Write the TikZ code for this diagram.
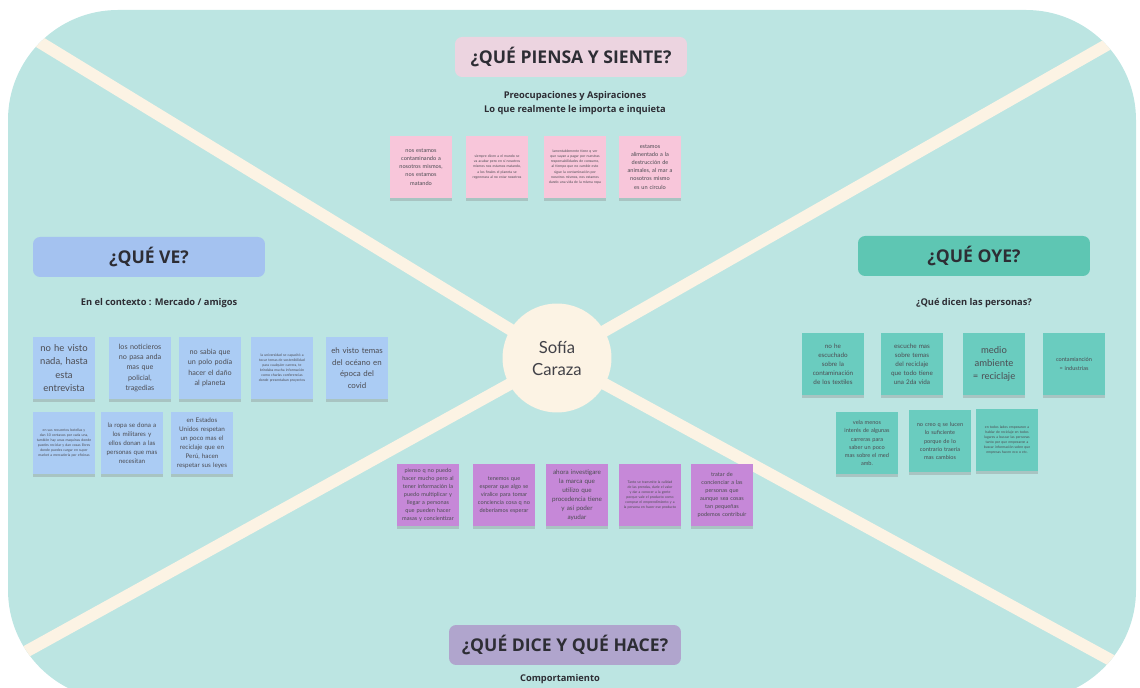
\documentclass[tikz,border=0pt]{standalone}
\usepackage{fontspec}
\setmainfont{Open Sans}
\newfontfamily\notefont{Lato}
\usetikzlibrary{shadows}
\definecolor{mapteal}{RGB}{188,229,226}
\definecolor{mapcream}{RGB}{252,243,228}
\definecolor{pinkhead}{RGB}{236,212,224}
\definecolor{pinknote}{RGB}{248,198,218}
\definecolor{bluehead}{RGB}{164,194,240}
\definecolor{bluenote}{RGB}{171,204,244}
\definecolor{tealhead}{RGB}{94,198,179}
\definecolor{tealnote}{RGB}{106,204,191}
\definecolor{lilahead}{RGB}{176,165,205}
\definecolor{lilanote}{RGB}{198,136,216}
\definecolor{inkgray}{RGB}{45,45,52}
% note text sizes
\newcommand\nbig{\notefont\fontsize{5.4}{7.6}\selectfont}
\newcommand\nlarge{\notefont\fontsize{4.5}{6.6}\selectfont}
\newcommand\nmid{\notefont\fontsize{4.1}{5.9}\selectfont}
\newcommand\nsmall{\notefont\fontsize{3.6}{5.1}\selectfont}
\newcommand\nsmaller{\notefont\fontsize{3.2}{4.6}\selectfont}
\newcommand\ntiny{\notefont\fontsize{2}{2.9}\selectfont\hyphenpenalty=10000}
\tikzset{
  head/.style  = {rounded corners=4pt, minimum width=4.64cm, minimum height=0.8cm,
                  font=\fontsize{10}{12}\selectfont\bfseries, text=inkgray},
  sub/.style   = {font=\fontsize{5.3}{8}\selectfont\bfseries, text=inkgray, align=center},
  note/.style  = {minimum width=1.24cm, minimum height=1.24cm, inner sep=0pt,
                  text width=1.16cm, align=center, text=inkgray!85,
                  drop shadow={shadow xshift=0pt, shadow yshift=-1.5pt, opacity=.32}},
  xline/.style = {draw=mapcream, line width=0.24cm},
}

\begin{document}
\begin{tikzpicture}[x=0.02cm, y=-0.02cm]
  \useasboundingbox (0,0) rectangle (1140,688);

  % board and the cross
  \coordinate (c) at (557,358);
  \coordinate (ul) at (0,18);
  \coordinate (ur) at (1140,26);
  \coordinate (lr) at (1140,676);
  \coordinate (ll) at (0,666);
  \begin{scope}
    \clip[rounded corners=2.2cm] (8,10) rectangle (1136,700);
    \fill[mapteal] (0,0) rectangle (1140,700);
    \foreach \e in {ul, ur, lr, ll} {
      \draw[xline] (c) -- (\e);
    }
  \end{scope}

  \node[circle, fill=mapcream, minimum size=2.18cm, align=center, text=inkgray!90,
        font=\notefont\fontsize{9.5}{12.5}\selectfont] (persona) at (c) {Sofía\\Caraza};

  % headings
  \node[head, fill=pinkhead] (hpiensa) at (571,57) {¿QUÉ PIENSA Y SIENTE?};
  \node[head, fill=bluehead] (hve) at (149,257) {¿QUÉ VE?};
  \node[head, fill=tealhead] (hoye) at (974,256) {¿QUÉ OYE?};
  \node[head, fill=lilahead] (hdice) at (565,645) {¿QUÉ DICE Y QUÉ HACE?};

  \node[sub] (spiensa) at (575,103) {Preocupaciones y Aspiraciones\\Lo que realmente le importa e inquieta};
  \node[sub] (sve) at (159,303) {En el contexto : Mercado / amigos};
  \node[sub] (soye) at (974,303) {¿Qué dicen las personas?};
  \node[sub] (sdice) at (560,679) {Comportamiento};

  % piensa y siente
  \foreach \i/\x/\f/\txt in {
    1/421/\nsmaller/{nos estamos\\contaminando a\\nosotros mismos,\\nos estamos\\matando},
    2/497/\ntiny/{siempre dicen a el mundo se va acabar pero en sí nosotros mismos nos estamos matando, a los finales el planeta se regenerara al no estar nosotros},
    3/575/\ntiny/{lamentablemente tiene q ver que vayan a pagar por nuestras responsabilidades de consumo, al tiempo que no cambie esto sigue la contaminación por nosotros mismos, nos estamos dando una vida de la misma ropa},
    4/650/\nsmaller/{estamos\\alimentado a la\\destrucción de\\animales, al mar a\\nosotros mismo\\es un circulo}} {
    \node[note, fill=pinknote, font=\f] (t\i) at (\x,167) {\txt};
  }

  % que ve
  \foreach \i/\x/\y/\f/\txt in {
    1/64/368/\nbig/{no he visto\\nada, hasta\\esta\\entrevista},
    2/140/368/\nmid/{los noticieros\\no pasa anda\\mas que\\policial,\\tragedias},
    3/210/368/\nmid/{no sabia que\\un polo podía\\hacer el daño\\al planeta},
    4/282/368/\ntiny/{la universidad se capacitó a tocar temas de sostenibilidad para cualquier carrera, te brindaba mucha información como charlas conferencias donde presentaban proyectos},
    5/357/368/\nlarge/{eh visto temas\\del océano en\\época del\\covid},
    6/64/443/\ntiny/{en sus recuentos botellas y dan 10 centavos por cada una, también hay unas maquinas donde puedes reciclar y dan cosas libres donde puedes cargar en super market a mercadería por eficinas},
    7/132/443/\nsmall/{la ropa se dona a\\los militares y\\ellos donan a las\\personas que mas\\necesitan},
    8/202/443/\nsmall/{en Estados\\Unidos respetan\\un poco mas el\\reciclaje que en\\Perú, hacen\\respetar sus leyes}} {
    \node[note, fill=bluenote, font=\f] (v\i) at (\x,\y) {\txt};
  }

  % que oye
  \foreach \i/\x/\y/\f/\txt in {
    1/833/364/\nsmall/{no he\\escuchado\\sobre la\\contaminación\\de los textiles},
    2/912/364/\nsmall/{escuche mas\\sobre temas\\del reciclaje\\que todo tiene\\una 2da vida},
    3/994/364/\nbig/{medio\\ambiente\\= reciclaje},
    4/1074/364/\nsmaller/{contamianción\\= industrias},
    5/867/443/\nsmaller/{vela menos\\interés de algunas\\carreras para\\saber un poco\\mas sobre el med\\amb.},
    6/940/441/\nsmaller/{no creo q se lucen\\lo suficiente\\porque de lo\\contrario traería\\mas cambios},
    7/1007/440/\ntiny/{en todos lados empezaron a hablar de reciclaje en todos lugares a buscar las personas tanto por que empezaron a buscar información sobre que empresas hacen eco o etc.}} {
    \node[note, fill=tealnote, font=\f] (o\i) at (\x,\y) {\txt};
  }

  % dice y hace
  \foreach \i/\x/\f/\txt in {
    1/428/\nsmaller/{pienso q no puedo\\hacer mucho pero al\\tener información la\\puedo multiplicar y\\llegar a personas\\que pueden hacer\\masas y concientizar},
    2/504/\nsmaller/{tenemos que\\esperar que algo se\\viralice para tomar\\conciencia cosa q no\\deberíamos esperar},
    3/577/\nsmall/{ahora investigare\\la marca que\\utilizo que\\procedencia tiene\\y así poder\\ayudar},
    4/650/\ntiny/{Tanto se transmite la calidad de las prendas, darle el valor y dar a conocer a la gente porque vale el producto como comprar el emprendimiento y a la persona en hacer ese producto},
    5/722/\nsmaller/{tratar de\\concienciar a las\\personas que\\aunque sea cosas\\tan pequeñas\\podemos contribuir}} {
    \node[note, fill=lilanote, font=\f] (d\i) at (\x,495) {\txt};
  }
\end{tikzpicture}
\end{document}
